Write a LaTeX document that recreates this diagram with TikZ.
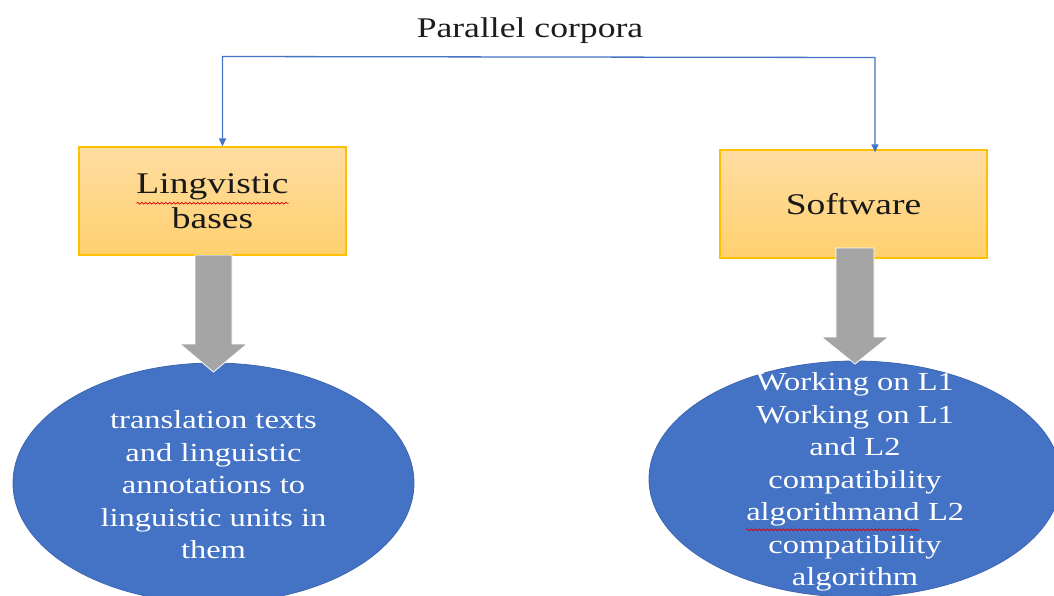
\documentclass[tikz,border=0pt]{standalone}
\usepackage{fontspec}
\setmainfont{Liberation Serif}[FakeStretch=1.25]
\usetikzlibrary{shapes.geometric,arrows.meta,decorations.pathmorphing,calc}
\definecolor{boxtop}{HTML}{FFDDA2}
\definecolor{boxbot}{HTML}{FFD06E}
\definecolor{boxedge}{HTML}{FFC000}
\definecolor{ellfill}{HTML}{4472C4}
\definecolor{elledge}{HTML}{3D66B0}
\definecolor{arrgray}{HTML}{A5A5A5}
\definecolor{linkblue}{HTML}{4472C4}
\definecolor{titlecol}{HTML}{1C1C1C}
\newcommand\wavy[1]{\tikz[baseline=(w.base)]{\node[inner sep=0pt,outer sep=0pt,minimum width=0pt,minimum height=0pt,anchor=center,align=left](w){#1};\draw[red!85!black,line width=0.7pt,decorate,decoration={snake,amplitude=0.9pt,segment length=4pt}]([yshift=-3.5pt]w.south west)--([yshift=-3.5pt]w.south east);}}
\tikzset{
  ybox/.style={draw=boxedge,line width=1.3pt,top color=boxtop,bottom color=boxbot,
    minimum width=267pt,minimum height=108pt,inner sep=0pt,align=center,
    font=\fontsize{30}{35}\selectfont,text=black!90},
  ell/.style={ellipse,fill=ellfill,draw=elledge,line width=0.8pt,inner sep=0pt},
  elltext/.style={align=center,text=white,font=\fontsize{26}{32.5}\selectfont,inner sep=0pt},
  conn/.style={draw=linkblue,line width=1.3pt,{Triangle[length=8pt,width=7pt]}-{Triangle[length=8pt,width=7pt]}},
  blockarr/.style={fill=arrgray,draw=white,line width=0.8pt}
}
\begin{document}
\begin{tikzpicture}[x=1pt,y=-1pt]
\useasboundingbox (0,0) rectangle (1054,595);
% title
\node[font=\fontsize{28.5}{34}\selectfont,text=titlecol,inner sep=0pt] (title) at (530,31) {Parallel corpora};
% boxes
\node[ybox] (lb) at (212.5,201) {\wavy{Lingvistic}\\bases};
\node[ybox] (rb) at (853.5,204) {Software};
% ellipses
\node[ell,minimum width=401pt,minimum height=240pt] (le) at (213.5,483) {};
\node[ell,minimum width=412pt,minimum height=236pt] (re) at (855,479) {};
\node[elltext] (lt) at (213.5,485) {translation texts\\and linguistic\\annotations to\\linguistic units in\\them};
\node[elltext] (rt) at (855,482) {Working on L1\\Working on L1\\and L2\\compatibility\\\wavy{algorithmand} L2\\compatibility\\algorithm};
% blue bracket connector
\coordinate (barL) at (222.5,56.5);
\coordinate (barR) at (875,57.5);
\draw[conn] (barL |- lb.north) -- (barL) -- (barR) -- ([yshift=-3pt]barR |- rb.north);
% gray block arrows
\coordinate (la) at (213.5,255);
\coordinate (lt0) at (213.5,372);
\coordinate (ra) at (855,248);
\coordinate (rt0) at (855,364);
\path[blockarr] let \p1=(la), \p2=(lt0) in
  (\x1-18.5pt,\y1) -- (\x1+18.5pt,\y1) -- (\x1+18.5pt,\y2+28pt) -- (\x1+33.5pt,\y2+28pt)
  -- (\x2,\y2) -- (\x1-33.5pt,\y2+28pt) -- (\x1-18.5pt,\y2+28pt) -- cycle;
\path[blockarr] let \p1=(ra), \p2=(rt0) in
  (\x1-19pt,\y1) -- (\x1+19pt,\y1) -- (\x1+19pt,\y2+27pt) -- (\x1+33.5pt,\y2+27pt)
  -- (\x2,\y2) -- (\x1-33.5pt,\y2+27pt) -- (\x1-19pt,\y2+27pt) -- cycle;
\end{tikzpicture}
\end{document}
